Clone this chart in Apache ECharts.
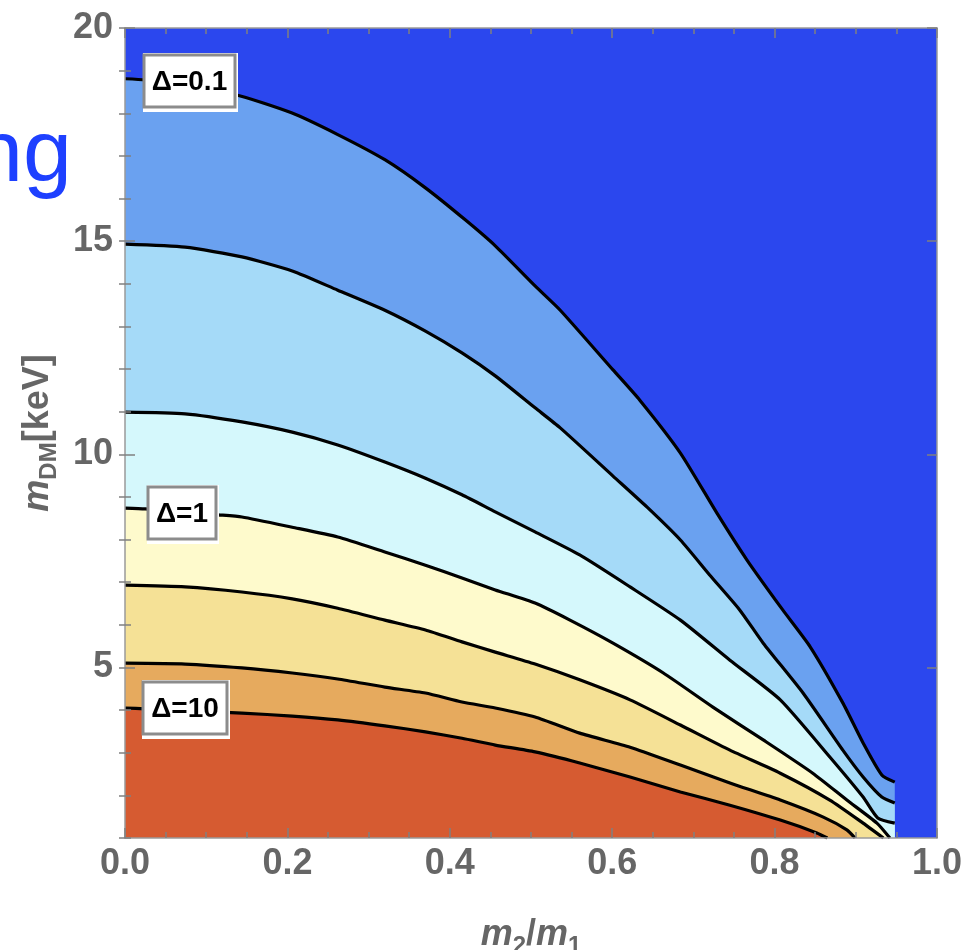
<!DOCTYPE html>
<html>
<head>
<meta charset="utf-8">
<script src="https://cdn.jsdelivr.net/npm/echarts@6/dist/echarts.min.js"></script>
<style>
html,body{margin:0;padding:0;background:#fff;overflow:hidden;}
#chart{width:965px;height:950px;}
</style>
</head>
<body>
<div id="chart"></div>
<script>
// ---- data (x = m2/m1, y = m_DM [keV]) ----
const contour01 = [[0,18.81],[0.025,18.78],[0.135,18.44],[0.205,18.01],[0.262,17.50],[0.320,16.91],[0.370,16.25],[0.419,15.50],[0.456,14.89],[0.505,13.95],[0.536,13.38],[0.601,11.98],[0.634,11.27],[0.684,10.03],[0.729,8.62],[0.766,7.52],[0.810,6.35],[0.844,5.48],[0.884,4.17],[0.909,3.23],[0.932,2.48],[0.948,2.31]];
const contour02 = [[0,14.93],[0.074,14.86],[0.144,14.63],[0.206,14.30],[0.262,13.85],[0.320,13.38],[0.370,12.89],[0.415,12.38],[0.456,11.84],[0.505,11.09],[0.536,10.62],[0.601,9.49],[0.643,8.76],[0.684,7.99],[0.720,7.17],[0.757,6.35],[0.786,5.57],[0.835,4.40],[0.884,3.06],[0.909,2.43],[0.932,1.96],[0.948,1.82]];
const contour03 = [[0,10.99],[0.074,10.95],[0.144,10.76],[0.206,10.52],[0.262,10.22],[0.320,9.82],[0.370,9.44],[0.415,9.05],[0.456,8.65],[0.505,8.18],[0.560,7.64],[0.622,6.89],[0.684,6.11],[0.745,5.17],[0.807,4.24],[0.868,2.90],[0.909,1.96],[0.927,1.47],[0.948,1.35]];
const contour04 = [[0,8.74],[0.025,8.72],[0.115,8.58],[0.144,8.53],[0.206,8.29],[0.262,8.06],[0.320,7.71],[0.370,7.40],[0.415,7.10],[0.456,6.82],[0.505,6.51],[0.548,6.11],[0.601,5.57],[0.663,4.87],[0.724,4.07],[0.786,3.30],[0.847,2.52],[0.889,1.89],[0.926,1.35],[0.942,1.0]];
const contour05 = [[0,6.93],[0.074,6.89],[0.144,6.77],[0.206,6.61],[0.262,6.39],[0.320,6.11],[0.370,5.88],[0.415,5.60],[0.456,5.36],[0.505,5.08],[0.560,4.71],[0.622,4.24],[0.684,3.65],[0.745,3.06],[0.807,2.52],[0.868,1.89],[0.909,1.35],[0.934,1.0]];
const contour06 = [[0,5.10],[0.074,5.08],[0.144,4.99],[0.206,4.87],[0.262,4.73],[0.320,4.54],[0.370,4.40],[0.415,4.19],[0.456,4.05],[0.505,3.84],[0.560,3.46],[0.622,3.13],[0.684,2.71],[0.745,2.29],[0.807,1.89],[0.860,1.49],[0.889,1.19],[0.899,1.0]];
const contour07 = [[0,4.05],[0.025,4.03],[0.144,3.93],[0.206,3.86],[0.262,3.77],[0.320,3.63],[0.370,3.49],[0.415,3.34],[0.456,3.18],[0.505,3.02],[0.560,2.76],[0.622,2.43],[0.684,2.08],[0.745,1.77],[0.807,1.42],[0.852,1.12],[0.865,1.0]];

const labelTexts = ['Δ=0.1', 'Δ=1', 'Δ=10'];
const labelX = [0.080, 0.070, 0.074];
const labelY = [18.75, 8.63, 4.04];

const xMin = 0, xMax = 1, xStep = 0.2;
const yMin = 1, yMax = 20;
const yMajorTicks = [5, 10, 15, 20];

// ---- styles ----
const FONT = '"Liberation Sans", Arial, sans-serif';
const BG = '#2B47EE';
const fills = ['#6AA1F0', '#A5DAF8', '#D5F8FC', '#FEFACC', '#F5E196', '#E6AA5E', '#D65B31'];
const contours = [contour01, contour02, contour03, contour04, contour05, contour06, contour07];
const frameColor = '#9a9a9a';
const tickColor = '#808080';
const labelColor = '#666666';
const SMOOTH = 0.2;

const richName = {
  i: { fontFamily: FONT, fontSize: 36, fontWeight: 'bold', fontStyle: 'italic', color: labelColor, lineHeight: 46 },
  n: { fontFamily: FONT, fontSize: 36, fontWeight: 'bold', color: labelColor, lineHeight: 46 },
  s: { fontFamily: FONT, fontSize: 24, fontWeight: 'bold', color: labelColor, lineHeight: 24, verticalAlign: 'bottom' }
};

function tickAxisBase() {
  return {
    type: 'value', z: 10,
    splitLine: { show: false }, minorSplitLine: { show: false },
    axisLine: { show: true, onZero: false, lineStyle: { color: frameColor, width: 1.5 } },
    axisTick: { show: true, inside: true, length: 10, lineStyle: { color: tickColor, width: 1.5 } }
  };
}

const xAxes = ['bottom', 'top'].map((pos, k) => Object.assign(tickAxisBase(), {
  position: pos, min: xMin, max: xMax, interval: xStep,
  minorTick: { show: true, splitNumber: 4, length: 6, lineStyle: { color: tickColor, width: 1.5 } },
  axisLabel: k === 0 ? { show: true, formatter: v => v.toFixed(1), color: labelColor, fontSize: 36, fontWeight: 'bold', fontFamily: FONT, margin: 8 } : { show: false },
  name: k === 0 ? '{i|m}{s|2}{n|/}{i|m}{s|1}' : '',
  nameLocation: 'middle', nameGap: 74,
  nameTextStyle: { rich: richName }
}));

const yAxes = [];
['left', 'right'].forEach((pos, k) => {
  yAxes.push(Object.assign(tickAxisBase(), {
    position: pos, min: yMin, max: yMax,
    axisTick: { show: true, inside: true, length: 10, customValues: yMajorTicks, lineStyle: { color: tickColor, width: 1.5 } },
    axisLabel: k === 0 ? { show: true, customValues: yMajorTicks, color: labelColor, fontSize: 36, fontWeight: 'bold', fontFamily: FONT, margin: 12 } : { show: false },
    name: k === 0 ? '{i|m}{s|DM}{n|[keV]}' : '',
    nameLocation: 'middle', nameGap: 64,
    nameTextStyle: { rich: richName }
  }));
  yAxes.push(Object.assign(tickAxisBase(), {
    position: pos, min: yMin, max: yMax, interval: 1,
    axisLine: { show: false },
    axisTick: { show: true, inside: true, length: 6, lineStyle: { color: tickColor, width: 1.5 } },
    axisLabel: { show: false }
  }));
});

const series = [];
contours.forEach((c, i) => {
  const last = c[c.length - 1];
  const areaData = last[1] > yMin ? c.concat([[last[0], yMin]]) : c.slice();
  series.push({
    type: 'line', data: areaData, symbol: 'none', smooth: SMOOTH, z: 2,
    lineStyle: { width: 0, color: fills[i] },
    areaStyle: { color: fills[i], opacity: 1, origin: 'start' },
    silent: true, animation: false
  });
});
contours.forEach((c) => {
  series.push({
    type: 'line', data: c, symbol: 'none', smooth: SMOOTH, z: 3,
    lineStyle: { width: 3.2, color: '#000', join: 'round' },
    silent: true, animation: false
  });
});

const option = {
  animation: false,
  backgroundColor: '#fff',
  grid: { left: 125, right: 28, top: 28, bottom: 112, show: true, backgroundColor: BG, borderWidth: 0, outerBoundsMode: 'none', containLabel: false },
  xAxis: xAxes,
  yAxis: yAxes,
  series: series
};

const chart = echarts.init(document.getElementById('chart'), null, { renderer: 'canvas' });
chart.setOption(option);

// measure label text
const mctx = document.createElement('canvas').getContext('2d');
const LABEL_FONT = 'bold 28px ' + FONT;
mctx.font = LABEL_FONT;

const gfx = [{
  type: 'text', z: 1,
  x: 72, y: 157,
  style: { text: 'ng', fill: '#1E40FF', font: 'normal 88px ' + FONT, align: 'right', verticalAlign: 'middle' }
}];
labelTexts.forEach((t, i) => {
  const p = chart.convertToPixel({ xAxisIndex: 0, yAxisIndex: 0 }, [labelX[i], labelY[i]]);
  const w = Math.round(mctx.measureText(t).width) + 16;
  const h = 52;
  const x0 = Math.round(p[0] - w / 2), y0 = Math.round(p[1] - h / 2);
  gfx.push({
    type: 'group', z: 20,
    children: [
      { type: 'rect', z: 20, shape: { x: x0 - 1, y: y0 - 2, width: w + 4, height: h + 7 }, style: { fill: '#fff' } },
      { type: 'rect', z: 21, shape: { x: x0, y: y0, width: w, height: h }, style: { fill: '#fff', stroke: '#8c8c8c', lineWidth: 3 } },
      { type: 'text', z: 22, x: x0 + w / 2, y: y0 + h / 2 + 1, style: { text: t, fill: '#000', font: LABEL_FONT, align: 'center', verticalAlign: 'middle' } }
    ]
  });
});
chart.setOption({ graphic: gfx });
</script>
</body>
</html>
